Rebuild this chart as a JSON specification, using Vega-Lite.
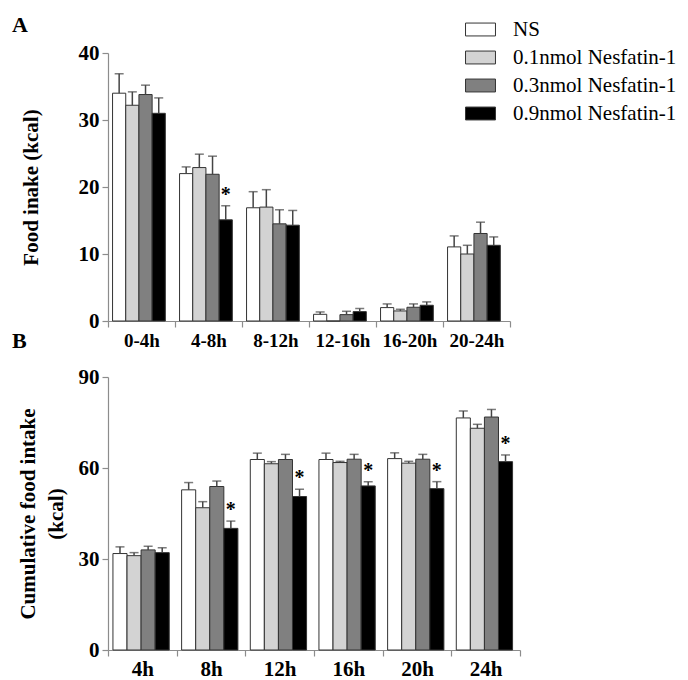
{
  "$schema": "https://vega.github.io/schema/vega-lite/v6.json",
  "padding": {"left": 12, "top": 14, "right": 5, "bottom": 5},
  "background": "white",
  "bounds": "flush",
  "spacing": 56,
  "config": {
    "view": {"stroke": null},
    "font": "Liberation Serif",
    "axis": {
      "domainColor": "#8c8c8c", "tickColor": "#8c8c8c", "grid": false,
      "labelColor": "black", "titleColor": "black",
      "labelFont": "Liberation Serif", "titleFont": "Liberation Serif",
      "labelFontWeight": "bold", "titleFontWeight": "bold",
      "domainWidth": 1.2, "tickWidth": 1.2
    },
    "legend": {"labelFont": "Liberation Serif", "labelFontSize": 21, "labelColor": "black", "labelFontWeight": "normal", "labelLimit": 300}
  },
  "resolve": {"scale": {"x": "independent", "y": "independent", "xOffset": "independent"}},
  "datasets": {
    "a": [
      {"time": "0-4h", "group": "NS", "value": 34.0, "err": 36.9, "sig": ""},
      {"time": "0-4h", "group": "0.1nmol Nesfatin-1", "value": 32.2, "err": 34.2, "sig": ""},
      {"time": "0-4h", "group": "0.3nmol Nesfatin-1", "value": 33.8, "err": 35.2, "sig": ""},
      {"time": "0-4h", "group": "0.9nmol Nesfatin-1", "value": 31.0, "err": 33.3, "sig": ""},
      {"time": "4-8h", "group": "NS", "value": 22.0, "err": 23.0, "sig": ""},
      {"time": "4-8h", "group": "0.1nmol Nesfatin-1", "value": 22.9, "err": 24.9, "sig": ""},
      {"time": "4-8h", "group": "0.3nmol Nesfatin-1", "value": 21.9, "err": 24.6, "sig": ""},
      {"time": "4-8h", "group": "0.9nmol Nesfatin-1", "value": 15.1, "err": 17.2, "sig": "*"},
      {"time": "8-12h", "group": "NS", "value": 16.9, "err": 19.3, "sig": ""},
      {"time": "8-12h", "group": "0.1nmol Nesfatin-1", "value": 17.0, "err": 19.6, "sig": ""},
      {"time": "8-12h", "group": "0.3nmol Nesfatin-1", "value": 14.5, "err": 16.6, "sig": ""},
      {"time": "8-12h", "group": "0.9nmol Nesfatin-1", "value": 14.3, "err": 16.5, "sig": ""},
      {"time": "12-16h", "group": "NS", "value": 1.0, "err": 1.35, "sig": ""},
      {"time": "12-16h", "group": "0.1nmol Nesfatin-1", "value": 0, "err": null, "sig": ""},
      {"time": "12-16h", "group": "0.3nmol Nesfatin-1", "value": 0.95, "err": 1.45, "sig": ""},
      {"time": "12-16h", "group": "0.9nmol Nesfatin-1", "value": 1.4, "err": 1.85, "sig": ""},
      {"time": "16-20h", "group": "NS", "value": 2.0, "err": 2.55, "sig": ""},
      {"time": "16-20h", "group": "0.1nmol Nesfatin-1", "value": 1.5, "err": 1.75, "sig": ""},
      {"time": "16-20h", "group": "0.3nmol Nesfatin-1", "value": 2.05, "err": 2.55, "sig": ""},
      {"time": "16-20h", "group": "0.9nmol Nesfatin-1", "value": 2.35, "err": 2.85, "sig": ""},
      {"time": "20-24h", "group": "NS", "value": 11.06, "err": 12.7, "sig": ""},
      {"time": "20-24h", "group": "0.1nmol Nesfatin-1", "value": 10.0, "err": 11.3, "sig": ""},
      {"time": "20-24h", "group": "0.3nmol Nesfatin-1", "value": 13.06, "err": 14.75, "sig": ""},
      {"time": "20-24h", "group": "0.9nmol Nesfatin-1", "value": 11.3, "err": 12.55, "sig": ""}
    ],
    "b": [
      {"time": "4h", "group": "NS", "value": 31.8, "err": 34.0, "sig": ""},
      {"time": "4h", "group": "0.1nmol Nesfatin-1", "value": 31.1, "err": 32.1, "sig": ""},
      {"time": "4h", "group": "0.3nmol Nesfatin-1", "value": 33.0, "err": 34.2, "sig": ""},
      {"time": "4h", "group": "0.9nmol Nesfatin-1", "value": 32.1, "err": 33.7, "sig": ""},
      {"time": "8h", "group": "NS", "value": 52.8, "err": 55.2, "sig": ""},
      {"time": "8h", "group": "0.1nmol Nesfatin-1", "value": 46.9, "err": 48.9, "sig": ""},
      {"time": "8h", "group": "0.3nmol Nesfatin-1", "value": 53.9, "err": 55.7, "sig": ""},
      {"time": "8h", "group": "0.9nmol Nesfatin-1", "value": 40.1, "err": 42.5, "sig": "*"},
      {"time": "12h", "group": "NS", "value": 62.8, "err": 64.9, "sig": ""},
      {"time": "12h", "group": "0.1nmol Nesfatin-1", "value": 61.4, "err": 62.1, "sig": ""},
      {"time": "12h", "group": "0.3nmol Nesfatin-1", "value": 62.8, "err": 64.5, "sig": ""},
      {"time": "12h", "group": "0.9nmol Nesfatin-1", "value": 50.6, "err": 53.0, "sig": "*"},
      {"time": "16h", "group": "NS", "value": 62.8, "err": 64.9, "sig": ""},
      {"time": "16h", "group": "0.1nmol Nesfatin-1", "value": 61.8, "err": 62.2, "sig": ""},
      {"time": "16h", "group": "0.3nmol Nesfatin-1", "value": 62.9, "err": 64.5, "sig": ""},
      {"time": "16h", "group": "0.9nmol Nesfatin-1", "value": 54.1, "err": 55.5, "sig": "*"},
      {"time": "20h", "group": "NS", "value": 63.1, "err": 65.0, "sig": ""},
      {"time": "20h", "group": "0.1nmol Nesfatin-1", "value": 61.6, "err": 62.2, "sig": ""},
      {"time": "20h", "group": "0.3nmol Nesfatin-1", "value": 62.9, "err": 64.5, "sig": ""},
      {"time": "20h", "group": "0.9nmol Nesfatin-1", "value": 53.2, "err": 55.5, "sig": "*"},
      {"time": "24h", "group": "NS", "value": 76.5, "err": 78.8, "sig": ""},
      {"time": "24h", "group": "0.1nmol Nesfatin-1", "value": 73.1, "err": 74.4, "sig": ""},
      {"time": "24h", "group": "0.3nmol Nesfatin-1", "value": 76.8, "err": 79.3, "sig": ""},
      {"time": "24h", "group": "0.9nmol Nesfatin-1", "value": 62.1, "err": 64.3, "sig": "*"}
    ]
  },
  "vconcat": [
    {
      "width": 402,
      "height": 268,
      "data": {"name": "a"},
      "title": {"text": "A", "anchor": "start", "frame": "group", "dx": -96, "offset": -12, "fontSize": 22, "fontWeight": "bold", "font": "Liberation Serif", "baseline": "alphabetic", "align": "left", "color": "black"},
      "encoding": {
        "x": {"field": "time", "type": "nominal", "sort": null, "scale": {"paddingInner": 0, "paddingOuter": 0},
              "axis": {"title": null, "labelAngle": 0, "tickBand": "extent", "labelFontSize": 19, "tickSize": 6, "labelPadding": 4}},
        "xOffset": {"field": "group", "type": "nominal", "scale": {"domain": ["NS", "0.1nmol Nesfatin-1", "0.3nmol Nesfatin-1", "0.9nmol Nesfatin-1"], "paddingInner": 0, "paddingOuter": 0.54, "align": 0.32}}
      },
      "layer": [
        {
          "mark": {"type": "bar", "stroke": "#333333", "strokeWidth": 1},
          "encoding": {
            "y": {"field": "value", "type": "quantitative", "title": "Food inake  (kcal)", "scale": {"domain": [0, 40], "nice": false},
                  "axis": {"values": [0, 10, 20, 30, 40], "labelFontSize": 21, "titleFontSize": 21, "tickSize": 6, "labelPadding": 3, "titlePadding": 37}},
            "fill": {"field": "group", "type": "nominal",
                     "scale": {"domain": ["NS", "0.1nmol Nesfatin-1", "0.3nmol Nesfatin-1", "0.9nmol Nesfatin-1"], "range": ["#ffffff", "#d3d3d3", "#808080", "#000000"]},
                     "legend": {"orient": "none", "legendX": 358, "legendY": -38, "title": null, "symbolType": "M-1.07,-0.46H1.07V0.46H-1.07Z", "symbolSize": 784, "symbolStrokeColor": "#333333", "symbolStrokeWidth": 1, "labelFontSize": 21, "labelFont": "Liberation Serif", "labelFontWeight": "normal", "labelColor": "black", "labelOffset": 18, "labelLimit": 300, "rowPadding": 3, "padding": 0}}
          }
        },
        {
          "mark": {"type": "rule", "color": "#444444", "strokeWidth": 1.5},
          "encoding": {"y": {"field": "value", "type": "quantitative", "title": "Food inake  (kcal)", "scale": {"domain": [0, 40], "nice": false}}, "y2": {"field": "err"}}
        },
        {
          "mark": {"type": "tick", "color": "#444444", "thickness": 1.5, "size": 9},
          "encoding": {"y": {"field": "err", "type": "quantitative", "title": "Food inake  (kcal)", "scale": {"domain": [0, 40], "nice": false}}}
        },
        {
          "mark": {"type": "text", "fontSize": 20, "fontWeight": "bold", "font": "Liberation Serif", "baseline": "alphabetic", "dy": -5, "color": "black"},
          "encoding": {"y": {"field": "err", "type": "quantitative", "title": "Food inake  (kcal)", "scale": {"domain": [0, 40], "nice": false}}, "text": {"field": "sig"}}
        }
      ]
    },
    {
      "width": 412,
      "height": 273,
      "data": {"name": "b"},
      "title": {"text": "B", "anchor": "start", "frame": "group", "dx": -96, "offset": -4, "fontSize": 22, "fontWeight": "bold", "font": "Liberation Serif", "baseline": "alphabetic", "align": "left", "color": "black"},
      "encoding": {
        "x": {"field": "time", "type": "nominal", "sort": null, "scale": {"paddingInner": 0, "paddingOuter": 0},
              "axis": {"title": null, "labelAngle": 0, "tickBand": "extent", "labelFontSize": 21, "tickSize": 6, "labelPadding": 2}},
        "xOffset": {"field": "group", "type": "nominal", "scale": {"domain": ["NS", "0.1nmol Nesfatin-1", "0.3nmol Nesfatin-1", "0.9nmol Nesfatin-1"], "paddingInner": 0, "paddingOuter": 0.44, "align": 0.4}}
      },
      "layer": [
        {
          "mark": {"type": "bar", "stroke": "#333333", "strokeWidth": 1},
          "encoding": {
            "y": {"field": "value", "type": "quantitative", "title": ["Cumulative food intake", "(kcal)"], "scale": {"domain": [0, 90], "nice": false},
                  "axis": {"values": [0, 30, 60, 90], "labelFontSize": 21, "titleFontSize": 21, "titleLineHeight": 28, "tickSize": 6, "labelPadding": 3, "titlePadding": 12}},
            "fill": {"field": "group", "type": "nominal",
                     "scale": {"domain": ["NS", "0.1nmol Nesfatin-1", "0.3nmol Nesfatin-1", "0.9nmol Nesfatin-1"], "range": ["#ffffff", "#d3d3d3", "#808080", "#000000"]},
                     "legend": {"orient": "none", "legendX": 358, "legendY": -38, "title": null, "symbolType": "M-1.07,-0.46H1.07V0.46H-1.07Z", "symbolSize": 784, "symbolStrokeColor": "#333333", "symbolStrokeWidth": 1, "labelFontSize": 21, "labelFont": "Liberation Serif", "labelFontWeight": "normal", "labelColor": "black", "labelOffset": 18, "labelLimit": 300, "rowPadding": 3, "padding": 0}}
          }
        },
        {
          "mark": {"type": "rule", "color": "#444444", "strokeWidth": 1.5},
          "encoding": {"y": {"field": "value", "type": "quantitative", "title": ["Cumulative food intake", "(kcal)"], "scale": {"domain": [0, 90], "nice": false}}, "y2": {"field": "err"}}
        },
        {
          "mark": {"type": "tick", "color": "#444444", "thickness": 1.5, "size": 9},
          "encoding": {"y": {"field": "err", "type": "quantitative", "title": ["Cumulative food intake", "(kcal)"], "scale": {"domain": [0, 90], "nice": false}}}
        },
        {
          "mark": {"type": "text", "fontSize": 20, "fontWeight": "bold", "font": "Liberation Serif", "baseline": "alphabetic", "dy": -5, "color": "black"},
          "encoding": {"y": {"field": "err", "type": "quantitative", "title": ["Cumulative food intake", "(kcal)"], "scale": {"domain": [0, 90], "nice": false}}, "text": {"field": "sig"}}
        }
      ]
    }
  ]
}
